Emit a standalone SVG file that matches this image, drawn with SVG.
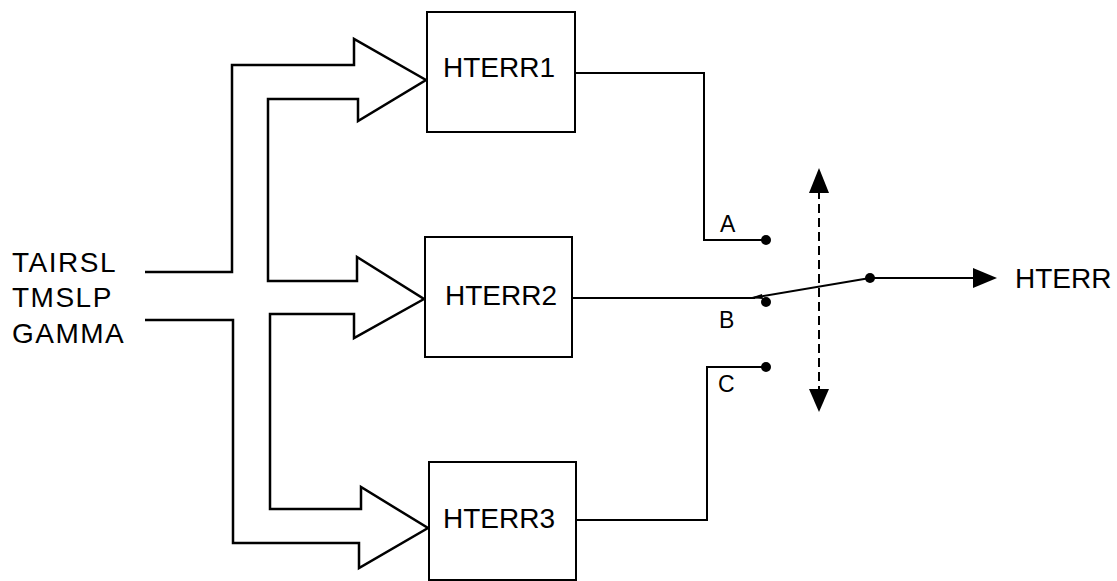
<svg xmlns="http://www.w3.org/2000/svg" width="1117" height="581" viewBox="0 0 1117 581">
<style>
.ln{fill:none;stroke:#000;stroke-width:2;stroke-linejoin:miter}
.bx{fill:#fff;stroke:#000;stroke-width:2}
.big{fill:none;stroke:#000;stroke-width:2.5;stroke-linejoin:miter;stroke-miterlimit:10}
.t{font-family:"Liberation Sans",Arial,sans-serif;font-size:28px;fill:#000}
.l{font-family:"Liberation Sans",Arial,sans-serif;font-size:28px;letter-spacing:1.5px;fill:#000}
.s{font-family:"Liberation Sans",Arial,sans-serif;font-size:23px;fill:#000}
.dot{fill:#000}
</style>
<g id="connectors">
<polyline id="inputs" class="big" points="145,272 232,272 232,65 354,65 354,39 426,80 358,121 358,99 268,99 268,281 357,281 357,257 424,299 354,338 354,314 270,314 270,509 361,509 361,487 428,528 359,568 359,543 233,543 233,320 145,320"/>
<polyline class="ln" points="575,73 704,73 704,240 766,240"/>
<polyline class="ln" points="572,298 755,298"/>
<polyline class="ln" points="576,520 707,520 707,367 766,367"/>
<line class="ln" x1="752" y1="298" x2="870" y2="278"/>
<polygon class="dot" points="750,298 762,294 763,299"/>
<circle class="dot" cx="766" cy="240" r="5"/>
<circle class="dot" cx="766" cy="302" r="5"/>
<circle class="dot" cx="766" cy="367" r="5"/>
<circle class="dot" cx="870" cy="278" r="5"/>
<line class="ln" x1="870" y1="278" x2="976" y2="278"/>
<polygon class="dot" points="973,268 997,278 973,288"/>
<line class="ln" x1="819" y1="190" x2="819" y2="391" stroke-dasharray="9 5"/>
<polygon class="dot" points="819,168 829,193 809,193"/>
<polygon class="dot" points="819,412 829,389 809,389"/>
</g>
<g id="HTERR1">
<rect class="bx" x="427" y="12" width="148" height="120"/>
<text class="t" x="443" y="77">HTERR1</text>
</g>
<g id="HTERR2">
<rect class="bx" x="425" y="237" width="147" height="120"/>
<text class="t" x="445" y="305">HTERR2</text>
</g>
<g id="HTERR3">
<rect class="bx" x="429" y="462" width="147" height="118"/>
<text class="t" x="443" y="528">HTERR3</text>
</g>
<g id="labels">
<text class="l" x="12" y="272">TAIRSL</text>
<text class="l" x="12" y="307">TMSLP</text>
<text class="l" x="12" y="343">GAMMA</text>
<text class="s" x="720" y="232">A</text>
<text class="s" x="719" y="328">B</text>
<text class="s" x="718" y="392">C</text>
<text class="t" x="1015" y="288">HTERR</text>
</g>
</svg>
